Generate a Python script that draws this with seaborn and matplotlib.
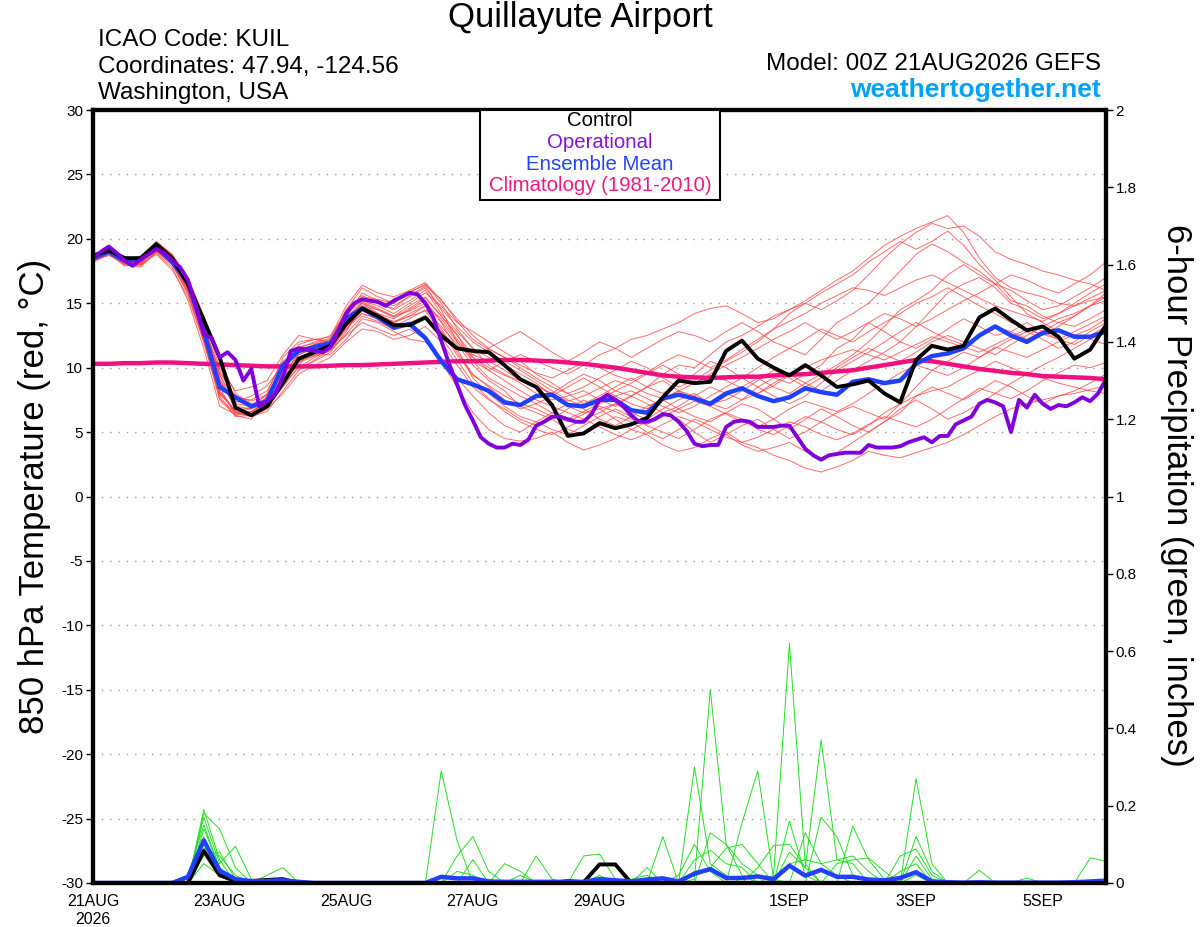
import numpy as np
import pandas as pd
import seaborn as sns
import matplotlib
matplotlib.use("Agg")
from matplotlib import pyplot as plt
from matplotlib.patches import Rectangle

# GEFS 00Z 21AUG2026, 850 hPa temperature (C) and 6-hour precip (in), 6-hourly steps
tick_days = [0, 2, 4, 6, 8, 11, 13, 15]
tick_labels = ["21AUG\n2026", "23AUG", "25AUG", "27AUG", "29AUG", "1SEP", "3SEP", "5SEP"]

control = [18.7, 19.1, 18.5, 18.5, 19.6, 18.5, 16.5, 13.7, 10.8, 6.9, 6.3, 7.0, 8.8,
           10.7, 11.2, 11.7, 13.4, 14.6, 14.0, 13.3, 13.3, 13.9, 12.5, 11.5, 11.3, 11.2,
           10.2, 9.1, 8.5, 7.1, 4.7, 4.9, 5.7, 5.3, 5.6, 6.1, 7.7, 9.0, 8.8,
           8.9, 11.3, 12.1, 10.7, 10.0, 9.4, 10.2, 9.4, 8.5, 8.7, 9.0, 8.0, 7.3,
           10.6, 11.7, 11.4, 11.7, 13.9, 14.6, 13.7, 12.9, 13.2, 12.4, 10.7, 11.4, 13.3]

ens_mean = [18.5, 19.0, 18.3, 18.4, 19.4, 18.2, 16.6, 12.8, 8.5, 7.7, 7.0, 7.4, 10.2,
            11.3, 11.6, 11.9, 13.8, 14.6, 13.9, 13.1, 13.4, 12.3, 10.5, 9.1, 8.7, 8.2,
            7.3, 7.1, 7.8, 7.9, 7.1, 7.0, 7.5, 7.5, 6.7, 6.5, 7.6, 7.9, 7.6,
            7.2, 8.0, 8.4, 7.8, 7.4, 7.7, 8.4, 8.1, 7.9, 8.9, 9.1, 8.8, 9.0,
            10.3, 10.9, 11.1, 11.5, 12.5, 13.2, 12.5, 12.0, 12.7, 12.9, 12.4, 12.4, 12.8]

climatology = [10.3, 10.3, 10.35, 10.35, 10.4, 10.4, 10.35, 10.3, 10.25, 10.2, 10.15, 10.1, 10.1,
               10.1, 10.1, 10.15, 10.2, 10.2, 10.25, 10.3, 10.35, 10.4, 10.45, 10.5, 10.5, 10.55,
               10.6, 10.6, 10.55, 10.5, 10.4, 10.3, 10.15, 10.0, 9.8, 9.6, 9.4, 9.3, 9.25,
               9.2, 9.25, 9.3, 9.3, 9.4, 9.45, 9.5, 9.6, 9.7, 9.8, 10.0, 10.2, 10.4,
               10.6, 10.5, 10.3, 10.1, 9.9, 9.75, 9.6, 9.5, 9.35, 9.3, 9.25, 9.2, 9.1]

# operational run is 3-hourly
operational = [18.5, 19.0, 19.4, 18.9, 18.3, 17.9, 18.4, 18.8, 19.2, 18.9,
               18.3, 17.8, 16.8, 14.8, 12.6, 12.3, 10.8, 11.2, 10.6, 9.0,
               9.9, 7.0, 7.4, 7.9, 9.3, 11.3, 11.5, 11.4, 11.3, 11.2,
               11.6, 12.9, 14.2, 15.0, 15.3, 15.2, 15.1, 14.8, 15.2, 15.5,
               15.8, 15.7, 15.0, 13.9, 12.1, 10.3, 8.7, 7.1, 5.9, 4.6,
               4.1, 3.8, 3.8, 4.1, 4.0, 4.4, 5.5, 5.8, 6.2, 6.2,
               6.0, 5.8, 5.8, 6.4, 7.5, 7.9, 7.5, 7.0, 6.3, 5.8,
               5.8, 6.0, 6.4, 6.3, 5.8, 5.1, 4.1, 3.9, 4.0, 4.0,
               5.4, 5.8, 5.9, 5.8, 5.4, 5.4, 5.4, 5.5, 5.5, 4.6,
               3.7, 3.2, 2.85, 3.2, 3.3, 3.4, 3.4, 3.4, 4.0, 3.8,
               3.8, 3.8, 3.9, 4.2, 4.4, 4.6, 4.2, 4.7, 4.7, 5.6,
               5.9, 6.2, 7.2, 7.5, 7.3, 7.0, 5.0, 7.5, 6.9, 7.9,
               7.2, 6.8, 7.1, 7.0, 7.3, 7.7, 7.4, 8.0, 9.1]

members = [
    [18.6, 19.2, 18.4, 18.3, 19.5, 18.6, 16.8, 13.5, 9.5, 6.8, 6.5, 7.2,
     9.5, 11.0, 11.5, 11.8, 13.5, 15.0, 14.5, 14.0, 14.8, 15.5, 14.0, 12.5,
     11.0, 10.5, 9.8, 9.0, 8.5, 8.0, 8.8, 9.5, 9.0, 8.2, 7.8, 8.5, 9.5, 10.2, 10.0, 11.0, 12.0, 12.5, 13.2, 14.0, 14.5, 15.2, 16.0, 16.8,
     17.5, 18.5, 19.5, 20.2, 20.8, 21.3, 21.8, 20.5, 18.5, 17.0, 16.2, 15.8, 15.5, 15.0, 14.8, 15.2, 15.5],
    [18.3, 18.9, 18.0, 17.8, 19.0, 18.2, 16.0, 12.8, 8.5, 6.3, 6.0, 7.5,
     10.0, 11.8, 12.2, 12.0, 14.0, 15.8, 15.2, 14.8, 15.5, 16.2, 14.5, 12.0,
     10.5, 9.8, 10.5, 11.0, 10.5, 10.0, 9.5, 10.2, 11.0, 11.5, 12.2, 12.5, 13.0, 13.5, 14.2, 14.6, 14.8, 14.2, 13.5, 13.8, 14.5, 15.0, 14.5, 15.2,
     16.0, 17.2, 18.5, 19.6, 20.5, 21.2, 20.8, 21.0, 20.2, 19.0, 18.4, 18.0, 17.5, 17.2, 16.8, 16.5, 16.0],
    [18.2, 18.8, 17.9, 18.0, 18.8, 17.6, 15.5, 12.0, 7.8, 6.2, 6.3, 7.8,
     9.5, 10.0, 10.8, 11.5, 12.5, 13.5, 13.0, 12.5, 13.0, 12.2, 10.5, 8.5,
     6.5, 5.2, 4.5, 4.3, 4.5, 5.0, 4.2, 3.6, 4.0, 4.5, 5.2, 4.8, 4.0, 3.5, 3.8, 4.5, 5.0, 4.2, 3.8, 3.2, 2.8, 2.2, 1.9, 2.3,
     2.8, 3.5, 3.2, 3.0, 3.4, 3.8, 4.2, 4.8, 5.5, 6.2, 6.8, 7.2, 7.5, 7.8, 8.0, 8.3, 8.6],
    [18.8, 19.3, 18.6, 18.4, 19.8, 18.8, 17.0, 14.0, 10.5, 8.0, 7.2, 7.0,
     8.5, 10.2, 11.8, 12.0, 14.5, 16.2, 15.5, 15.0, 15.8, 16.5, 15.0, 13.0,
     11.5, 10.8, 10.2, 9.5, 8.8, 7.8, 7.0, 6.5, 6.8, 7.2, 6.5, 6.0, 6.8, 7.5, 8.0, 7.2, 6.8, 7.5, 8.5, 9.2, 8.8, 9.5, 10.2, 11.5,
     12.2, 13.5, 12.8, 12.0, 13.2, 14.5, 15.8, 16.5, 17.0, 16.2, 15.0, 14.5, 13.8, 14.2, 15.0, 15.8, 16.5],
    [18.5, 18.8, 18.3, 18.1, 19.3, 18.2, 16.2, 13.0, 9.0, 7.0, 6.8, 7.3,
     9.0, 10.8, 11.2, 11.4, 13.0, 14.5, 14.0, 13.2, 13.8, 14.5, 13.2, 11.8,
     10.2, 9.0, 8.2, 7.0, 6.5, 6.0, 5.2, 4.8, 5.5, 6.2, 5.8, 5.0, 4.5, 5.2, 6.0, 5.5, 4.8, 4.0, 3.5, 3.8, 4.2, 3.5, 3.0, 3.4,
     4.2, 5.0, 5.8, 6.5, 7.8, 8.5, 8.0, 7.5, 8.2, 9.0, 8.5, 7.8, 7.2, 7.8, 8.2, 8.8, 9.5],
    [18.4, 19.1, 18.1, 18.3, 19.0, 18.4, 16.4, 13.2, 9.8, 7.6, 7.5, 8.2,
     10.5, 11.5, 12.0, 12.5, 14.2, 15.2, 14.8, 14.2, 15.0, 15.8, 14.8, 13.5,
     12.8, 12.0, 11.2, 10.5, 9.5, 8.8, 8.0, 7.2, 7.8, 8.5, 9.2, 8.5, 8.0, 8.8, 9.5, 10.5, 10.0, 9.2, 10.0, 10.8, 11.5, 11.0, 12.2, 13.5,
     14.2, 15.0, 16.2, 17.5, 18.8, 19.6, 19.0, 18.2, 17.5, 16.5, 15.2, 14.8, 14.0, 13.5, 13.2, 13.8, 14.5],
    [18.6, 19.0, 18.5, 18.6, 19.6, 18.7, 16.6, 12.5, 8.2, 6.5, 6.2, 6.8,
     8.0, 9.5, 10.2, 10.8, 12.0, 13.0, 12.8, 12.2, 12.5, 13.2, 12.0, 10.2,
     8.5, 7.5, 6.8, 6.0, 5.5, 6.0, 6.8, 7.5, 6.8, 6.0, 5.2, 5.8, 6.5, 6.0, 5.0, 4.2, 4.8, 5.5, 6.0, 5.2, 4.5, 5.0, 5.8, 6.5,
     7.0, 6.5, 6.0, 7.2, 8.5, 9.8, 10.5, 11.2, 10.8, 11.5, 12.2, 12.8, 12.2, 11.5, 12.0, 12.8, 13.5],
    [18.3, 18.7, 18.2, 18.0, 19.1, 18.0, 15.8, 12.2, 8.0, 6.6, 6.8, 8.0,
     10.8, 12.0, 12.2, 12.4, 14.8, 16.4, 15.8, 15.5, 16.0, 16.6, 15.2, 13.8,
     12.5, 11.5, 10.8, 10.0, 9.2, 8.5, 8.0, 8.5, 9.2, 9.8, 10.5, 10.0, 9.2, 8.5, 9.0, 9.8, 10.5, 11.2, 12.0, 13.0, 14.2, 15.0, 15.8, 16.5,
     17.2, 18.2, 19.0, 19.8, 19.2, 19.8, 20.6, 19.5, 18.0, 16.8, 15.5, 14.2, 13.5, 12.8, 12.5, 13.0, 13.8],
    [18.7, 19.2, 18.4, 18.2, 19.4, 18.3, 16.0, 12.6, 8.8, 7.2, 7.0, 7.6,
     9.8, 11.2, 11.4, 11.8, 13.8, 15.0, 14.2, 13.5, 14.0, 14.8, 13.8, 12.2,
     10.8, 9.8, 9.0, 8.2, 7.5, 7.0, 6.5, 6.0, 6.5, 7.2, 7.8, 7.2, 6.5, 7.0, 7.8, 8.5, 8.0, 7.5, 8.0, 8.8, 9.5, 8.8, 8.2, 9.0,
     9.8, 10.5, 11.2, 12.0, 11.5, 12.2, 13.0, 13.8, 13.2, 12.5, 12.8, 13.5, 12.8, 12.2, 11.8, 12.5, 13.2],
    [18.5, 19.0, 18.2, 18.5, 19.3, 18.5, 16.8, 13.8, 10.0, 8.2, 8.5, 9.0,
     11.0, 12.5, 12.2, 12.0, 13.2, 14.2, 13.8, 13.0, 13.5, 14.0, 12.8, 11.5,
     11.0, 11.5, 12.2, 12.8, 12.0, 11.2, 10.5, 11.2, 12.0, 11.5, 10.8, 11.5, 12.2, 12.8, 12.5, 12.0, 12.8, 13.5, 12.8, 12.0, 11.5, 12.2, 13.0, 12.5,
     12.0, 12.8, 13.5, 14.2, 15.0, 15.5, 16.2, 15.5, 14.8, 14.2, 13.5, 13.0, 12.5, 13.2, 14.0, 14.8, 15.5],
    [18.2, 18.9, 18.0, 17.9, 18.9, 17.8, 15.2, 11.5, 7.0, 6.4, 6.6, 7.4,
     9.2, 10.5, 11.0, 11.0, 12.2, 13.8, 13.5, 12.8, 12.2, 12.0, 10.8, 9.2,
     7.8, 6.5, 5.5, 5.0, 5.8, 6.5, 7.2, 6.8, 6.0, 5.5, 6.2, 7.0, 7.5, 6.8, 6.2, 5.8, 6.5, 7.2, 6.8, 6.0, 5.2, 6.0, 6.8, 6.2,
     5.5, 5.0, 5.8, 6.8, 7.5, 6.8, 6.0, 6.5, 7.2, 8.0, 8.8, 9.5, 10.2, 10.8, 11.5, 12.2, 12.8],
    [18.6, 19.1, 18.5, 18.3, 19.5, 18.6, 16.5, 13.0, 9.2, 6.8, 6.4, 7.0,
     9.2, 11.2, 11.8, 12.2, 14.5, 15.6, 15.0, 14.5, 15.2, 16.0, 14.2, 12.8,
     11.5, 10.2, 9.5, 8.8, 8.0, 7.5, 7.8, 8.2, 7.5, 7.0, 7.8, 8.5, 9.0, 8.2, 7.5, 7.0, 7.8, 8.5, 9.2, 8.5, 8.0, 8.8, 9.5, 10.2,
     11.0, 12.0, 13.2, 14.5, 15.2, 16.0, 17.2, 18.0, 17.2, 16.5, 16.0, 15.2, 14.5, 14.8, 15.5, 16.2, 17.0],
    [18.4, 18.8, 18.3, 18.4, 19.2, 18.1, 16.2, 12.3, 7.5, 6.3, 6.6, 7.2,
     8.8, 10.5, 11.0, 11.5, 13.0, 14.2, 13.8, 13.5, 14.2, 14.8, 13.0, 11.2,
     9.5, 8.5, 7.5, 6.8, 7.2, 7.8, 8.5, 9.2, 8.5, 7.8, 7.2, 6.8, 7.5, 8.2, 7.8, 7.2, 7.5, 8.2, 9.0, 9.8, 9.2, 8.5, 9.2, 10.0,
     10.8, 11.5, 11.0, 10.5, 11.2, 12.0, 12.5, 12.0, 11.5, 11.0, 11.8, 12.5, 13.2, 13.8, 14.2, 14.8, 15.2],
    [18.7, 19.3, 18.6, 18.4, 19.7, 18.8, 16.9, 13.6, 9.0, 6.9, 6.4, 6.9,
     8.6, 10.0, 10.5, 11.2, 12.8, 14.8, 14.2, 13.8, 14.5, 15.2, 13.5, 11.5,
     9.2, 8.0, 7.0, 6.2, 5.8, 5.2, 4.8, 5.5, 6.2, 6.8, 6.2, 5.5, 5.0, 4.5, 5.2, 6.0, 6.5, 6.0, 5.2, 4.8, 5.5, 6.2, 5.8, 5.2,
     4.8, 5.5, 6.5, 7.2, 7.8, 8.2, 8.5, 9.2, 9.8, 10.5, 10.0, 9.5, 9.2, 8.8, 8.5, 8.2, 8.0],
    [18.5, 19.1, 18.3, 18.2, 19.4, 18.4, 16.3, 12.9, 8.6, 7.3, 7.8, 8.6,
     10.2, 11.6, 11.9, 12.3, 14.3, 15.4, 15.0, 14.6, 15.6, 16.3, 14.6, 13.2,
     12.0, 11.2, 10.5, 9.8, 9.0, 8.2, 7.5, 7.0, 7.5, 8.2, 8.8, 9.5, 10.2, 9.5, 8.8, 9.5, 10.2, 10.8, 11.5, 12.2, 12.8, 13.5, 12.8, 12.2,
     12.8, 13.5, 14.2, 13.8, 13.2, 13.8, 14.5, 15.2, 15.8, 16.5, 17.2, 16.8, 16.2, 15.8, 16.5, 17.2, 18.2],
    [18.4, 18.9, 18.2, 18.1, 19.2, 18.3, 16.1, 12.4, 8.0, 6.7, 6.9, 7.7,
     9.6, 11.0, 11.6, 12.0, 13.6, 14.8, 14.5, 13.9, 14.6, 15.4, 14.0, 12.6,
     10.5, 9.2, 8.5, 7.8, 7.2, 6.5, 6.0, 6.6, 7.2, 7.8, 8.2, 7.6, 7.0, 6.5, 7.0, 7.8, 8.5, 9.2, 8.5, 7.8, 7.2, 7.8, 8.8, 9.8,
     10.5, 11.2, 12.0, 12.8, 13.5, 12.8, 12.2, 11.8, 12.5, 13.2, 12.8, 12.2, 12.8, 13.5, 14.0, 14.8, 15.8],
    [18.6, 19.0, 18.3, 18.2, 19.3, 18.4, 16.3, 13.1, 9.4, 7.4, 7.1, 7.9,
     10.1, 11.4, 11.7, 12.1, 13.9, 15.1, 14.6, 14.0, 14.4, 15.0, 13.6, 12.0,
     10.8, 10.0, 9.4, 9.0, 8.6, 8.0, 7.4, 7.8, 8.4, 9.0, 8.6, 8.0, 7.6, 8.2, 8.8, 9.4, 9.0, 8.4, 8.0, 8.6, 9.4, 10.0, 10.6, 11.0,
     11.4, 11.0, 10.6, 11.2, 11.8, 12.4, 12.0, 11.6, 11.2, 11.8, 12.4, 13.0, 12.6, 12.2, 12.8, 13.4, 14.0],
    [18.3, 18.8, 18.1, 18.0, 19.0, 18.0, 15.7, 12.0, 7.6, 6.5, 6.6, 7.3,
     9.0, 10.4, 10.9, 11.3, 12.6, 14.0, 13.6, 13.0, 13.4, 13.9, 12.4, 10.6,
     8.8, 7.6, 6.6, 5.8, 5.2, 4.8, 5.4, 6.0, 5.4, 4.8, 4.4, 4.9, 5.6, 6.2, 5.8, 5.2, 4.6, 4.2, 4.6, 5.2, 5.8, 5.4, 4.8, 4.4,
     4.9, 5.6, 6.2, 5.8, 5.4, 6.0, 6.8, 7.6, 8.4, 8.0, 7.6, 8.2, 9.0, 9.6, 10.2, 10.0, 10.4],
    [18.5, 19.2, 18.4, 18.1, 19.5, 18.5, 16.6, 13.3, 9.6, 7.8, 7.4, 7.9,
     9.9, 11.3, 11.8, 12.1, 14.0, 15.5, 15.3, 15.0, 15.9, 16.4, 15.3, 13.6,
     12.2, 11.4, 10.8, 10.2, 9.6, 9.2, 9.8, 10.4, 10.0, 9.4, 9.0, 9.6, 10.4, 11.0, 10.6, 10.0, 10.6, 11.4, 12.2, 13.0, 13.6, 14.2, 15.0, 15.6,
     16.2, 16.0, 15.6, 16.2, 16.8, 17.2, 16.6, 16.0, 15.4, 14.8, 14.4, 14.0, 13.6, 14.2, 14.8, 15.4, 16.0],
    [18.6, 19.0, 18.2, 18.3, 19.4, 18.2, 15.9, 12.4, 8.2, 6.6, 6.2, 6.6,
     8.2, 9.8, 10.6, 11.4, 13.2, 14.4, 14.0, 13.6, 14.0, 14.4, 12.8, 11.0,
     9.4, 8.6, 7.8, 7.2, 6.8, 6.2, 5.8, 6.4, 7.0, 6.6, 6.0, 5.6, 6.2, 6.8, 7.4, 7.0, 6.4, 5.8, 5.4, 6.0, 6.8, 7.4, 7.0, 6.6,
     7.2, 8.0, 8.8, 9.6, 10.2, 9.8, 9.4, 10.0, 10.8, 11.6, 11.2, 10.8, 11.4, 12.0, 12.6, 12.2, 11.8],
]

# 6-hour precipitation (inches)
ctrl_pcp = [0, 0, 0, 0, 0, 0, 0, .083, .02, .005, .005, .008, .01,
            0, 0, 0, 0, 0, 0, 0, 0, 0, 0, 0, 0, 0,
            0, 0, 0, 0, .005, .002, .048, .048, 0, 0, 0, 0, 0,
            0, 0, 0, 0, 0, 0, 0, 0, 0, 0, 0, 0, 0,
            0, 0, 0, 0, 0, 0, 0, 0, 0, 0, 0, 0, 0]
mean_pcp = [0, 0, 0, 0, 0, 0, .016, .11, .032, .01, .005, .005, .007,
            .003, 0, 0, 0, 0, 0, 0, 0, 0, .016, .012, .012, .004,
            .003, .003, .003, .003, .003, .003, .01, .007, .004, .009, .012, .004, .024,
            .036, .013, .013, .017, .01, .045, .019, .034, .016, .016, .009, .007, .013,
            .028, .004, .002, .001, .002, .001, .001, .001, .001, .001, .002, .004, .006]
member_pcp = [
    [0, 0, 0, 0, 0, 0, 0, .19, .06, 0, 0, 0, 0,
     0, 0, 0, 0, 0, 0, 0, 0, 0, .29, .11, 0, 0,
     0, 0, 0, 0, 0, 0, 0, 0, 0, 0, 0, 0, .30,
     .05, .02, 0, 0, 0, 0, 0, 0, 0, 0, 0, 0, 0,
     .27, .05, 0, 0, 0, 0, 0, 0, 0, 0, 0, 0, 0],
    [0, 0, 0, 0, 0, 0, 0, .18, .14, .04, 0, 0, 0,
     0, 0, 0, 0, 0, 0, 0, 0, 0, 0, .07, .12, .03,
     0, 0, 0, 0, 0, 0, 0, 0, 0, 0, 0, 0, .01,
     .50, .10, .02, 0, 0, 0, 0, .17, .12, .02, 0, 0, 0,
     0, 0, 0, 0, 0, 0, 0, 0, 0, 0, 0, 0, 0],
    [0, 0, 0, 0, 0, 0, 0, .17, .05, .095, .01, 0, 0,
     0, 0, 0, 0, 0, 0, 0, 0, 0, 0, 0, 0, 0,
     .05, .03, 0, 0, 0, .07, .075, .01, 0, 0, 0, 0, 0,
     0, 0, 0, 0, 0, .16, .02, 0, 0, .147, .06, .01, 0,
     0, 0, 0, 0, 0, 0, 0, 0, 0, 0, 0, 0, 0],
    [0, 0, 0, 0, 0, 0, .02, .15, .04, 0, 0, .02, .04,
     0, 0, 0, 0, 0, 0, 0, 0, 0, 0, 0, .06, 0,
     0, 0, .07, .01, 0, 0, 0, 0, 0, 0, .12, 0, 0,
     0, 0, .155, .29, .01, 0, 0, 0, 0, 0, 0, 0, 0,
     .12, .03, 0, 0, 0, 0, 0, 0, 0, 0, 0, 0, 0],
    [0, 0, 0, 0, 0, 0, 0, .12, .03, 0, 0, 0, 0,
     0, 0, 0, 0, 0, 0, 0, 0, 0, 0, .03, .02, 0,
     0, 0, 0, 0, 0, 0, 0, 0, 0, .04, 0, 0, 0,
     0, 0, 0, .04, .097, .10, .04, .37, .06, .05, 0, 0, 0,
     0, 0, 0, 0, 0, 0, 0, 0, 0, 0, 0, .065, .056],
    [0, 0, 0, 0, 0, 0, 0, .09, .07, .02, 0, 0, 0,
     0, 0, 0, 0, 0, 0, 0, 0, 0, 0, 0, 0, 0,
     0, .02, 0, 0, 0, 0, 0, 0, 0, 0, 0, 0, 0,
     .13, .10, .05, .02, 0, .08, .04, 0, 0, 0, 0, 0, .07,
     .088, .02, 0, 0, 0, 0, 0, 0, 0, 0, 0, 0, 0],
    [0, 0, 0, 0, 0, 0, .01, .07, .08, .01, 0, 0, 0,
     0, 0, 0, 0, 0, 0, 0, 0, 0, 0, 0, 0, 0,
     0, 0, 0, 0, 0, 0, .02, 0, 0, 0, 0, 0, .06,
     .085, .05, .04, 0, 0, 0, 0, 0, .05, .06, .065, .03, 0,
     0, 0, 0, 0, .033, 0, 0, 0, 0, 0, 0, 0, 0],
    [0, 0, 0, 0, 0, 0, 0, .05, .02, .01, 0, 0, 0,
     0, 0, 0, 0, 0, 0, 0, 0, 0, 0, 0, 0, .01,
     0, 0, 0, 0, 0, 0, 0, 0, 0, 0, 0, .02, .10,
     .03, 0, 0, 0, 0, 0, .13, .05, .02, 0, 0, 0, 0,
     .07, .01, 0, 0, 0, 0, 0, .013, 0, 0, 0, 0, 0],
    [0, 0, 0, 0, 0, 0, 0, .14, .04, 0, 0, 0, 0,
     0, 0, 0, 0, 0, 0, 0, 0, 0, 0, 0, 0, 0,
     0, 0, 0, 0, 0, 0, 0, 0, .01, .02, 0, 0, .03,
     .04, .09, .10, .05, 0, .05, .06, .05, .06, .07, .03, 0, .03,
     .05, 0, 0, 0, 0, 0, 0, 0, 0, 0, 0, 0, 0],
    [0, 0, 0, 0, 0, 0, 0, .08, .03, 0, 0, 0, 0,
     0, 0, 0, 0, 0, 0, 0, 0, 0, 0, 0, 0, 0,
     0, 0, 0, 0, 0, 0, 0, 0, 0, 0, 0, 0, 0,
     0, 0, 0, 0, .02, .62, .05, 0, 0, 0, 0, 0, 0,
     .02, 0, 0, 0, 0, 0, 0, 0, 0, 0, 0, 0, 0],
]

days = np.arange(len(control)) / 4
op_days = np.arange(len(operational)) / 8

red = pd.DataFrame({"day": np.tile(days, len(members)),
                    "temp": np.concatenate(members),
                    "member": np.repeat(np.arange(len(members)), len(days))})
green = pd.DataFrame({"day": np.tile(days, len(member_pcp)),
                      "pcp": np.concatenate(member_pcp),
                      "member": np.repeat(np.arange(len(member_pcp)), len(days))})

sns.set_style("white")
plt.rcParams["font.family"] = ["Liberation Sans", "DejaVu Sans"]
plt.rcParams["text.color"] = "black"
plt.rcParams["xtick.color"] = "black"
plt.rcParams["ytick.color"] = "black"

fig = plt.figure(figsize=(12, 9.27), dpi=100)
ax = fig.add_axes([93 / 1200, 1 - 883 / 927, 1013 / 1200, 773 / 927])
ax2 = ax.twinx()

sns.lineplot(data=red, x="day", y="temp", units="member", estimator=None,
             color="#ff4545", lw=0.7, alpha=0.8, ax=ax, legend=False)
sns.lineplot(x=days, y=climatology, color="#f0107f", lw=3.2, ax=ax)
sns.lineplot(x=days, y=ens_mean, color="#2040ff", lw=3.2, ax=ax)
sns.lineplot(x=days, y=control, color="black", lw=2.8, ax=ax)
sns.lineplot(x=op_days, y=operational, color="#8000dd", lw=2.8, ax=ax)

sns.lineplot(data=green, x="day", y="pcp", units="member", estimator=None,
             color="#22dd22", lw=0.7, ax=ax2, legend=False)
sns.lineplot(x=days, y=ctrl_pcp, color="black", lw=2.8, ax=ax2)
sns.lineplot(x=days, y=mean_pcp, color="#2040ff", lw=3.2, ax=ax2)

ax.set_xlim(0, 16)
ax.set_ylim(-30, 30)
ax2.set_ylim(0, 2)
ax.set_yticks(range(-30, 31, 5))
ax.set_yticklabels([str(v) for v in range(-30, 31, 5)])
ax2.set_yticks(np.arange(0, 2.01, 0.2))
ax2.set_yticklabels(["0", "0.2", "0.4", "0.6", "0.8", "1", "1.2", "1.4", "1.6", "1.8", "2"])
ax.set_xticks(tick_days)
ax.set_xticklabels(tick_labels)
for a in (ax, ax2):
    a.set_xlabel("")
    a.set_ylabel("")
    a.tick_params(direction="out", length=5, width=1, labelsize=11, pad=2,
                  color="black", labelcolor="black")
    for s in a.spines.values():
        s.set_linewidth(3)
        s.set_color("black")
ax.tick_params(axis="x", labelsize=11.5, pad=3)
ax.grid(axis="y", linestyle=(0, (1, 5)), color="#999999", lw=1)
ax.set_axisbelow(True)

# header text
fig.text(580 / 1200, 1 - 18 / 927, "Quillayute Airport", ha="center", va="center", fontsize=25)
for k, line in enumerate(["ICAO Code: KUIL", "Coordinates: 47.94, -124.56", "Washington, USA"]):
    fig.text(98 / 1200, 1 - (40 + 26.5 * k) / 927, line, ha="left", va="center", fontsize=17.5)
fig.text(1101 / 1200, 1 - 64 / 927, "Model: 00Z 21AUG2026 GEFS", ha="right", va="center", fontsize=17.5)
fig.text(1101 / 1200, 1 - 90 / 927, "weathertogether.net", ha="right", va="center",
         fontsize=19, fontweight="bold", color="#00a2ff")

# axis titles
fig.text(35 / 1200, 1 - 496 / 927, "850 hPa Temperature (red, °C)", rotation=90,
         ha="center", va="center", fontsize=25)
fig.text(1176 / 1200, 1 - 495 / 927, "6-hour Precipitation (green, inches)", rotation=270,
         ha="center", va="center", fontsize=25)

# legend box
fig.add_artist(Rectangle((480 / 1200, 1 - 200 / 927), 240 / 1200, 90 / 927,
                         transform=fig.transFigure, facecolor="white",
                         edgecolor="black", lw=1.5, zorder=2))
legend_items = [("Control", "black"), ("Operational", "#8a10e0"),
                ("Ensemble Mean", "#2244ff"), ("Climatology (1981-2010)", "#ee1a80")]
for k, (name, col) in enumerate(legend_items):
    fig.text(600 / 1200, 1 - (121 + 21.5 * k) / 927, name, color=col,
             ha="center", va="center", fontsize=14.7, zorder=3)

fig.savefig("out.png", dpi=100)
